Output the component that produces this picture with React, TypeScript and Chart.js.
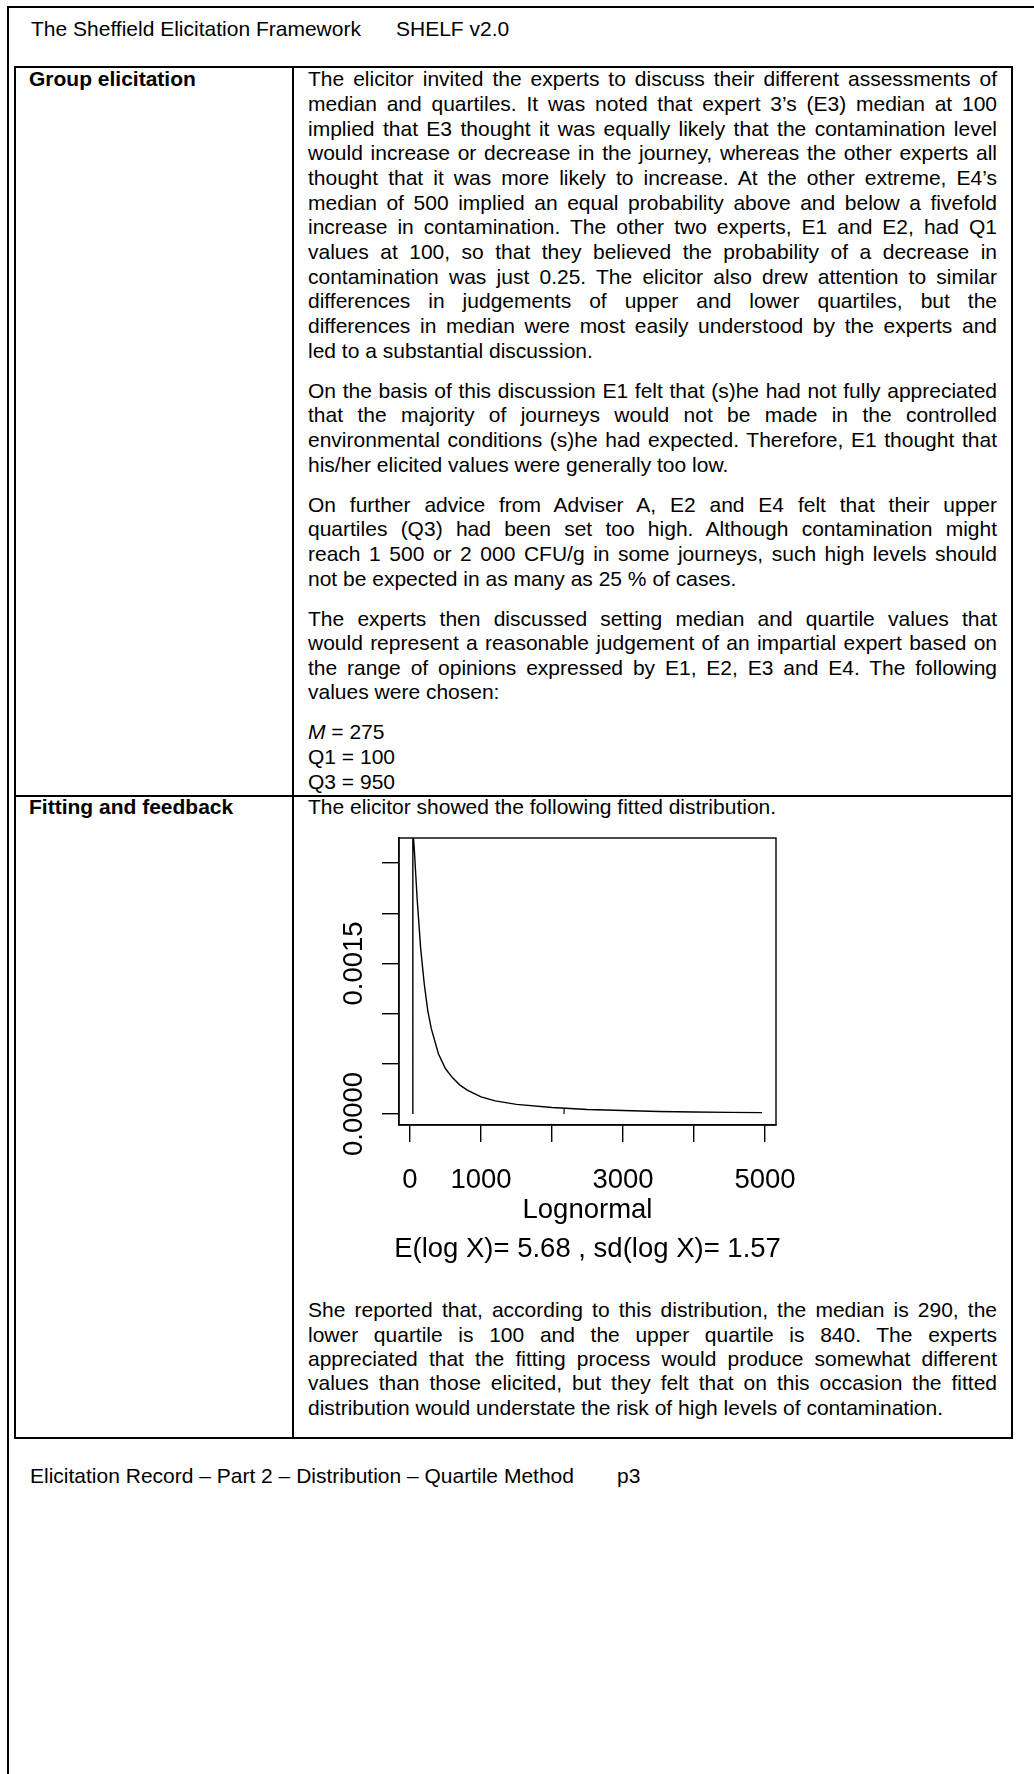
import React, { useEffect, useRef } from "react";
import { Chart, registerables } from "chart.js";

Chart.register(...registerables);

// ---------- chart data ----------
const densityX = [40, 40, 62, 100, 150, 200, 250, 300, 400, 500, 600, 700, 800, 1000, 1200, 1500, 2000, 2500, 3000, 3500, 4000, 4500, 4958];
const densityY = [0, 0.00284, 0.00262, 0.00215, 0.00165, 0.0013, 0.00103, 0.00085, 0.0006, 0.00045, 0.00036, 0.00029, 0.00024, 0.00017, 0.00013, 0.000095, 0.000065, 0.000045, 0.000035, 0.000025, 0.00002, 0.000016, 0.000013];
const markX = [2170, 2170];
const markY = [0, 0.00006];

const xTickValues = [0, 1000, 2000, 3000, 4000, 5000];
const xTickLabels = ["0", "1000", "", "3000", "", "5000"];
const yTickValues = [0, 0.0005, 0.001, 0.0015, 0.002, 0.0025];
const yTickLabels = ["0.0000", "", "", "0.0015", "", ""];
const xAxisTitle = "Lognormal";
const fitSubtitle = "E(log X)= 5.68 , sd(log X)= 1.57";

const X_MIN = -155;
const X_MAX = 5155;
const Y_MIN = -0.00011;
const Y_MAX = 0.00275;

// ---------- page text ----------
const headerLeft = "The Sheffield Elicitation Framework";
const headerRight = "SHELF v2.0";
const footerLeft = "Elicitation Record \u2013 Part 2 \u2013 Distribution \u2013 Quartile Method";
const footerRight = "p3";

const row1Label = "Group elicitation";
const row2Label = "Fitting and feedback";

const para1 = [
  "The elicitor invited the experts to discuss their different assessments of",
  "median and quartiles. It was noted that expert 3\u2019s (E3) median at 100",
  "implied that E3 thought it was equally likely that the contamination level",
  "would increase or decrease in the journey, whereas the other experts all",
  "thought that it was more likely to increase. At the other extreme, E4\u2019s",
  "median of 500 implied an equal probability above and below a fivefold",
  "increase in contamination. The other two experts, E1 and E2, had Q1",
  "values at 100, so that they believed the probability of a decrease in",
  "contamination was just 0.25. The elicitor also drew attention to similar",
  "differences in judgements of upper and lower quartiles, but the",
  "differences in median were most easily understood by the experts and",
  "led to a substantial discussion.",
];
const para2 = [
  "On the basis of this discussion E1 felt that (s)he had not fully appreciated",
  "that the majority of journeys would not be made in the controlled",
  "environmental conditions (s)he had expected. Therefore, E1 thought that",
  "his/her elicited values were generally too low.",
];
const para3 = [
  "On further advice from Adviser A, E2 and E4 felt that their upper",
  "quartiles (Q3) had been set too high. Although contamination might",
  "reach 1 500 or 2 000 CFU/g in some journeys, such high levels should",
  "not be expected in as many as 25 % of cases.",
];
const para4 = [
  "The experts then discussed setting median and quartile values that",
  "would represent a reasonable judgement of an impartial expert based on",
  "the range of opinions expressed by E1, E2, E3 and E4. The following",
  "values were chosen:",
];
const chosenValues = ["= 275", "Q1 = 100", "Q3 = 950"];
const fitIntro = "The elicitor showed the following fitted distribution.";
const para5 = [
  "She reported that, according to this distribution, the median is 290, the",
  "lower quartile is 100 and the upper quartile is 840. The experts",
  "appreciated that the fitting process would produce somewhat different",
  "values than those elicited, but they felt that on this occasion the fitted",
  "distribution would understate the risk of high levels of contamination.",
];

const FONT = '"Liberation Sans", Arial, Helvetica, sans-serif';
const FS = 21;
const LH = 24.5;
const BASE_OFF = (LH - 1.117 * FS) / 2 + 0.905 * FS;
const AXIS_FS = 27.5;

const TEXT_X = 308;
const TEXT_W = 689;

type LineProps = {
  x: number;
  y: number;
  w?: number;
  justify?: boolean;
  bold?: boolean;
  children: React.ReactNode;
};

function TextLine({ x, y, w, justify, bold, children }: LineProps) {
  return (
    <div
      style={{
        position: "absolute",
        left: x,
        top: y - BASE_OFF,
        width: w,
        fontSize: FS,
        lineHeight: LH + "px",
        fontWeight: bold ? 700 : 400,
        textAlign: justify ? "justify" : "left",
        textAlignLast: justify ? "justify" : "auto",
        whiteSpace: justify ? "normal" : "nowrap",
        color: "#000",
      }}
    >
      {children}
    </div>
  );
}

function Paragraph({ lines, start, step }: { lines: string[]; start: number; step: number }) {
  return (
    <>
      {lines.map((t, i) => (
        <TextLine key={i} x={TEXT_X} y={start + i * step} w={TEXT_W} justify={i < lines.length - 1}>
          {t}
        </TextLine>
      ))}
    </>
  );
}

const axisDecor = {
  id: "axisDecor",
  afterDraw(chart: any) {
    const { ctx, chartArea, scales } = chart;
    ctx.save();
    ctx.strokeStyle = "#000";
    ctx.lineWidth = 1.4;
    ctx.strokeRect(
      chartArea.left,
      chartArea.top,
      chartArea.right - chartArea.left,
      chartArea.bottom - chartArea.top
    );
    ctx.fillStyle = "#000";
    ctx.font = `${AXIS_FS}px ${FONT}`;
    ctx.textAlign = "center";
    ctx.textBaseline = "alphabetic";
    xTickValues.forEach((v, i) => {
      const lab = xTickLabels[i];
      if (!lab) return;
      ctx.fillText(lab, scales.x.getPixelForValue(v), chartArea.bottom + 63.3);
    });
    yTickValues.forEach((v, i) => {
      const lab = yTickLabels[i];
      if (!lab) return;
      ctx.save();
      ctx.translate(chartArea.left - 37.3, scales.y.getPixelForValue(v));
      ctx.rotate(-Math.PI / 2);
      ctx.fillText(lab, 0, 0);
      ctx.restore();
    });
    const cx = (chartArea.left + chartArea.right) / 2;
    ctx.fillText(xAxisTitle, cx, chartArea.bottom + 93);
    ctx.fillText(fitSubtitle, cx, chartArea.bottom + 131.7);
    ctx.restore();
  },
};

function FitChart() {
  const ref = useRef<HTMLCanvasElement | null>(null);
  useEffect(() => {
    if (!ref.current) return;
    const chart = new Chart(ref.current, {
      type: "scatter",
      data: {
        datasets: [
          {
            data: densityX.map((x, i) => ({ x, y: densityY[i] })),
            showLine: true,
            borderColor: "#000",
            borderWidth: 1.4,
            pointRadius: 0,
            tension: 0,
            fill: false,
          },
          {
            data: markX.map((x, i) => ({ x, y: markY[i] })),
            showLine: true,
            borderColor: "#000",
            borderWidth: 1.2,
            pointRadius: 0,
            fill: false,
          },
        ],
      },
      options: {
        animation: false,
        responsive: false,
        maintainAspectRatio: false,
        events: [],
        layout: { padding: { left: 0, right: 34, top: 12, bottom: 0 } },
        plugins: { legend: { display: false }, tooltip: { enabled: false } },
        scales: {
          x: {
            type: "linear",
            min: X_MIN,
            max: X_MAX,
            afterBuildTicks: (s: any) => {
              s.ticks = xTickValues.map((v) => ({ value: v }));
            },
            afterFit: (s: any) => {
              s.height = 145;
            },
            ticks: { display: false },
            grid: { drawOnChartArea: false, drawTicks: true, tickLength: 17, color: "#000", lineWidth: 1.4 },
            border: { display: true, color: "#000", width: 1.4 },
          },
          y: {
            type: "linear",
            min: Y_MIN,
            max: Y_MAX,
            afterBuildTicks: (s: any) => {
              s.ticks = yTickValues.map((v) => ({ value: v }));
            },
            afterFit: (s: any) => {
              s.width = 69;
            },
            ticks: { display: false },
            grid: { drawOnChartArea: false, drawTicks: true, tickLength: 17, color: "#000", lineWidth: 1.4 },
            border: { display: true, color: "#000", width: 1.4 },
          },
        },
      } as any,
      plugins: [axisDecor],
    });
    return () => chart.destroy();
  }, []);
  return (
    <canvas
      ref={ref}
      width={480}
      height={444}
      style={{ position: "absolute", left: 330, top: 826, width: 480, height: 444 }}
    />
  );
}

export default function App() {
  const P_STEP = 24.65;
  const P_GAP = 40;
  const p1Start = 87;
  const p2Start = p1Start + (para1.length - 1) * P_STEP + P_GAP;
  const p3Start = p2Start + (para2.length - 1) * P_STEP + P_GAP;
  const p4Start = p3Start + (para3.length - 1) * P_STEP + P_GAP;
  const p5Start = p4Start + (para4.length - 1) * P_STEP + P_GAP;

  const line = (style: React.CSSProperties): React.CSSProperties => ({
    position: "absolute",
    background: "#000",
    ...style,
  });

  return (
    <div
      style={{
        position: "absolute",
        left: 0,
        top: 0,
        width: 1034,
        height: 1774,
        overflow: "hidden",
        background: "#fff",
        fontFamily: FONT,
        color: "#000",
      }}
    >
      {/* page frame */}
      <div style={line({ left: 7, top: 6, width: 1027, height: 2 })} />
      <div style={line({ left: 7, top: 6, width: 2, height: 1768 })} />

      {/* header */}
      <TextLine x={31} y={37}>{headerLeft}</TextLine>
      <TextLine x={396} y={37}>{headerRight}</TextLine>

      {/* table borders */}
      <div style={line({ left: 14, top: 66, width: 999, height: 2 })} />
      <div style={line({ left: 14, top: 1437, width: 999, height: 2 })} />
      <div style={line({ left: 14, top: 66, width: 2, height: 1373 })} />
      <div style={line({ left: 1011, top: 66, width: 2, height: 1373 })} />
      <div style={line({ left: 292, top: 66, width: 1.5, height: 1373 })} />
      <div style={line({ left: 14, top: 795, width: 999, height: 2 })} />

      {/* row 1 */}
      <TextLine x={29} y={87} bold>{row1Label}</TextLine>
      <Paragraph lines={para1} start={p1Start} step={P_STEP} />
      <Paragraph lines={para2} start={p2Start} step={P_STEP} />
      <Paragraph lines={para3} start={p3Start} step={P_STEP} />
      <Paragraph lines={para4} start={p4Start} step={P_STEP} />
      <TextLine x={TEXT_X} y={p5Start}>
        <i>M</i> {chosenValues[0]}
      </TextLine>
      <TextLine x={TEXT_X} y={p5Start + P_STEP}>{chosenValues[1]}</TextLine>
      <TextLine x={TEXT_X} y={p5Start + 2 * P_STEP}>{chosenValues[2]}</TextLine>

      {/* row 2 */}
      <TextLine x={29} y={815} bold>{row2Label}</TextLine>
      <TextLine x={TEXT_X} y={815}>{fitIntro}</TextLine>
      <FitChart />
      <Paragraph lines={para5} start={1318} step={24.3} />

      {/* footer */}
      <TextLine x={30} y={1484}>{footerLeft}</TextLine>
      <TextLine x={617} y={1484}>{footerRight}</TextLine>
    </div>
  );
}
